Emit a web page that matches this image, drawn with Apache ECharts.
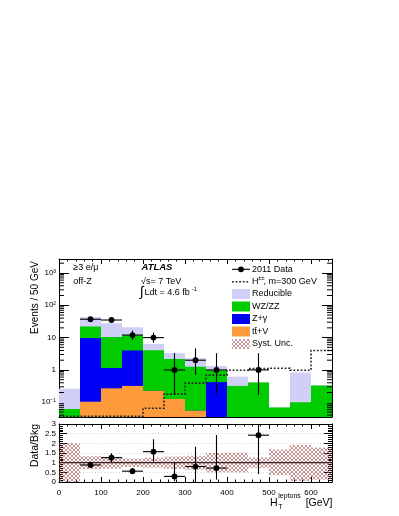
<!DOCTYPE html>
<html><head><meta charset="utf-8">
<script src="https://cdn.jsdelivr.net/npm/echarts@6/dist/echarts.min.js"></script>
<style>html,body{margin:0;padding:0;background:#fff}#c{width:399px;height:516px}</style>
</head><body><div id="c"></div>
<script>
// ---------------- data ----------------
const binEdges = [0,50,100,150,200,250,300,350,400,450,500,550,600,650];
const ttV       = [0, 0.104, 0.27, 0.32, 0.226, 0.126, 0.055, 0, 0, 0, 0, 0, 0];
const zGamma    = [0, 9.6, 0.88, 3.68, 0, 0, 0, 0.42, 0, 0, 0, 0, 0];
const wzzz      = [0.062, 12.3, 9.25, 7.9, 3.87, 2.07, 1.2, 0.56, 0.32, 0.41, 0.069, 0.1, 0.33];
const reducible = [0.2, 21.5, 17.5, 9.1, 2.2, 1.06, 1.04, 0.35, 0.3, 0, 0, 0.73, 0];
const signalHpp = [0, 0, 0, 0, 0.065, 0.178, 0.39, 0.69, 0.98, 1.1, 1.13, 0.98, 4.0];

const dataX  = [75, 125, 175, 225, 275, 325, 375, 475];
const dataY  = [37, 35, 12, 10, 1, 2, 1, 1];
const dataLo = [30.9, 29.1, 8.5, 6.9, 0.17, 0.71, 0.17, 0.17];
const dataHi = [44.1, 42.0, 16.6, 14.3, 3.3, 4.64, 3.3, 3.3];

const ratioY  = [0.88, 1.26, 0.56, 1.57, 0.29, 0.8, 0.72, 2.42];
const ratioLo = [0.72, 1.03, 0.40, 1.06, 0.04, 0.0, 0.12, 0.41];
const ratioHi = [1.05, 1.49, 0.72, 2.21, 1.03, 1.83, 2.43, 3.0];

const systLo = [0.0, 0.66, 0.70, 0.78, 0.74, 0.68, 0.64, 0.50, 0.50, 0.73, 0.35, 0.05, 0.12];
const systHi = [2.0, 1.34, 1.30, 1.22, 1.26, 1.32, 1.36, 1.50, 1.52, 1.27, 1.68, 1.92, 1.78];

const xTickLabels = ['0','100','200','300','400','500','600'];
const ratioTickLabels = ['0','0.5','1','1.5','2','2.5','3'];

// ---------------- helpers ----------------
const FONT = 'Liberation Sans, Arial, Helvetica, sans-serif';
const nBins = binEdges.length - 1;
const halfBin = (binEdges[1] - binEdges[0]) / 2;
const C_RED = '#cfcff7', C_GREEN = '#00cc00', C_BLUE = '#0000f5', C_ORANGE = '#fd9a3c';

function makeHatch(){
  const c = document.createElement('canvas'); c.width = 4; c.height = 4;
  const g = c.getContext('2d');
  g.fillStyle = 'rgba(165,85,85,0.62)';
  for (let i = 0; i < 4; i++) { g.fillRect(i, i, 1, 1); g.fillRect(3 - i, i, 1, 1); }
  return c;
}
const hatch = { image: makeHatch(), repeat: 'repeat' };

// cumulative stacks (bottom to top: ttV, Z+gamma, WZ/ZZ, Reducible)
const cum1 = ttV.slice();
const cum2 = cum1.map((v, i) => v + zGamma[i]);
const cum3 = cum2.map((v, i) => v + wzzz[i]);
const cum4 = cum3.map((v, i) => v + reducible[i]);
function histItems(arr){
  const out = [];
  for (let i = 0; i < nBins; i++) if (arr[i] > 0) out.push([binEdges[i], binEdges[i+1], arr[i]]);
  return out;
}
function clampY(cs, y){ return Math.max(cs.y, Math.min(cs.y + cs.height, y)); }

function histRender(color){
  return function(params, api){
    const cs = params.coordSys;
    const p0 = api.coord([api.value(0), api.value(2)]);
    const p1 = api.coord([api.value(1), api.value(2)]);
    const yTop = clampY(cs, p0[1]);
    const yBot = cs.y + cs.height;
    return { type: 'rect', shape: { x: p0[0], y: yTop, width: p1[0] - p0[0], height: yBot - yTop },
             style: { fill: color } };
  };
}

function errRender(isLog){
  return function(params, api){
    const cs = params.coordSys;
    const x = api.value(0), y = api.value(1), lo = api.value(2), hi = api.value(3);
    const bottom = cs.y + cs.height;
    const c = api.coord([x, y]);
    const pl = api.coord([x - halfBin, y]), pr = api.coord([x + halfBin, y]);
    const yl = (isLog && !(lo > 0)) ? bottom : clampY(cs, api.coord([x, lo])[1]);
    const yh = clampY(cs, api.coord([x, hi])[1]);
    return { type: 'group', children: [
      { type: 'line', shape: { x1: c[0], y1: yl, x2: c[0], y2: yh }, style: { stroke: '#000', lineWidth: 1.1 } },
      { type: 'line', shape: { x1: pl[0], y1: c[1], x2: pr[0], y2: c[1] }, style: { stroke: '#000', lineWidth: 1.1 } },
      { type: 'circle', shape: { cx: c[0], cy: c[1], r: 2.9 }, style: { fill: '#000' } }
    ]};
  };
}

function signalRender(params, api){
  const cs = params.coordSys;
  const bottom = cs.y + cs.height;
  const pts = [];
  for (let i = 0; i < nBins; i++) {
    const v = signalHpp[i];
    const xa = api.coord([binEdges[i], 1])[0], xb = api.coord([binEdges[i+1], 1])[0];
    const y = v > 0 ? clampY(cs, api.coord([binEdges[i], v])[1]) : bottom - 0.8;
    pts.push([xa, y], [xb, y]);
  }
  return { type: 'polyline', shape: { points: pts },
           style: { stroke: '#222', lineWidth: 1.6, lineDash: [1.8, 1.8], fill: null } };
}

const logMin = 0.035, logMax = 2700;
function logMinorTicks(params, api){
  const cs = params.coordSys;
  const ch = [];
  for (let n = -2; n <= 3; n++) for (let k = 2; k <= 9; k++) {
    const v = k * Math.pow(10, n);
    if (v <= logMin || v >= logMax) continue;
    const y = api.coord([0, v])[1];
    ch.push({ type: 'line', shape: { x1: cs.x, y1: y, x2: cs.x + 5, y2: y }, style: { stroke: '#000', lineWidth: 1 } });
    ch.push({ type: 'line', shape: { x1: cs.x + cs.width - 5, y1: y, x2: cs.x + cs.width, y2: y }, style: { stroke: '#000', lineWidth: 1 } });
  }
  return { type: 'group', children: ch };
}

function oneLineRender(params, api){
  const a = api.coord([binEdges[0], 1]), b = api.coord([binEdges[nBins], 1]);
  return { type: 'line', shape: { x1: a[0], y1: a[1], x2: b[0], y2: b[1] }, style: { stroke: '#3a2020', lineWidth: 1.1 } };
}

function bandRender(params, api){
  const p0 = api.coord([api.value(0), api.value(3)]);
  const p1 = api.coord([api.value(1), api.value(2)]);
  return { type: 'rect', shape: { x: p0[0], y: p0[1], width: p1[0] - p0[0], height: p1[1] - p0[1] },
           style: { fill: hatch } };
}

const SUP = { '-': '\u207b', '0': '\u2070', '1': '\u00b9', '2': '\u00b2', '3': '\u00b3', '4': '\u2074', '5': '\u2075' };
function logLabel(v){
  const l = Math.log10(v), r = Math.round(l);
  if (Math.abs(l - r) > 1e-6) return '';
  if (r === 0) return '1';
  if (r === 1) return '10';
  return '10' + String(r).split('').map(ch => SUP[ch]).join('');
}

// ---------------- axes ----------------
const lineBlack = { show: true, onZero: false, lineStyle: { color: '#000', width: 1 } };
function xAx(grid, pos, labels){
  return {
    type: 'value', gridIndex: grid, position: pos, min: 0, max: 650, interval: 100,
    axisLine: lineBlack,
    axisTick: { show: true, inside: true, length: 5, lineStyle: { color: '#000' } },
    minorTick: { show: true, splitNumber: 5, length: 2.5, lineStyle: { color: '#000' } },
    splitLine: { show: false }, minorSplitLine: { show: false },
    axisLabel: labels ? { show: true, color: '#000', fontSize: 8, fontFamily: FONT, margin: 7,
      formatter: v => xTickLabels.includes(String(v)) ? String(v) : '' } : { show: false }
  };
}
function yLog(pos, labels){
  return {
    type: 'log', gridIndex: 0, position: pos, min: logMin, max: logMax, splitNumber: 5,
    axisLine: lineBlack,
    axisTick: { show: true, inside: true, length: 10, lineStyle: { color: '#000' } },
    minorTick: { show: false }, splitLine: { show: false },
    axisLabel: labels ? { show: true, color: '#000', fontSize: 8, fontFamily: FONT, margin: 3, formatter: logLabel } : { show: false }
  };
}
function yRatio(pos, labels){
  return {
    type: 'value', gridIndex: 1, position: pos, min: 0, max: 3, interval: 0.5,
    axisLine: lineBlack,
    axisTick: { show: true, inside: true, length: 8, lineStyle: { color: '#000' } },
    minorTick: { show: true, splitNumber: 5, length: 4, lineStyle: { color: '#000' } },
    splitLine: { show: labels, lineStyle: { color: '#d4d4d4', type: [1, 2], width: 1 } },
    axisLabel: labels ? { show: true, color: '#000', fontSize: 8, fontFamily: FONT, margin: 3,
      formatter: v => { const s = String(v); return ratioTickLabels.includes(s) ? s : ''; } } : { show: false }
  };
}

// ---------------- legend & texts (graphic) ----------------
const legX = 232, legW = 18, legTx = 252;
const T = (x, y, text, extra) => Object.assign({ type: 'text', x: x, y: y, z: 100,
  style: Object.assign({ text: text, fill: '#000', fontFamily: FONT, fontSize: 9, verticalAlign: 'middle', align: 'left' }, extra || {}) });
const box = (y, fill) => ({ type: 'rect', z: 100, shape: { x: legX, y: y - 5, width: legW, height: 10 }, style: { fill: fill } });
const graphics = [
  // legend
  { type: 'line', z: 100, shape: { x1: legX, y1: 269.3, x2: legX + legW, y2: 269.3 }, style: { stroke: '#000', lineWidth: 1.1 } },
  { type: 'circle', z: 100, shape: { cx: legX + legW / 2, cy: 269.3, r: 2.9 }, style: { fill: '#000' } },
  T(legTx, 269.3, '2011 Data'),
  { type: 'line', z: 100, shape: { x1: legX, y1: 281.7, x2: legX + legW, y2: 281.7 }, style: { stroke: '#222', lineWidth: 1.6, lineDash: [1.8, 1.8] } },
  T(legTx, 281.7, 'H'),
  T(258, 278.8, '\u00b1\u00b1', { fontSize: 6 }),
  T(263.6, 281.7, ', m=300 GeV'),
  box(294, C_RED), T(legTx, 294, 'Reducible'),
  box(306.5, C_GREEN), T(legTx, 306.5, 'WZ/ZZ'),
  box(319, C_BLUE), T(legTx, 319, 'Z+\u03b3'),
  box(331.5, C_ORANGE), T(legTx, 331.5, 'tt\u0304+V'),
  box(344, hatch), T(legTx, 344, 'Syst. Unc.'),
  // labels in plot
  T(73.3, 268, '\u22653 e/\u03bc'),
  T(73.3, 282, 'off-Z'),
  T(141.5, 267.3, 'ATLAS', { fontWeight: 'bold', fontStyle: 'italic', fontSize: 9.5 }),
  T(141, 282, '\u221as= 7 TeV'),
  T(140, 292.5, '\u222b', { fontSize: 14 }),
  T(144.5, 293, 'Ldt = 4.6 fb'),
  T(191.8, 289.5, '-1', { fontSize: 6 }),
  // axis titles
  { type: 'text', x: 35, y: 297.5, rotation: Math.PI / 2, z: 100,
    style: { text: 'Events / 50 GeV', fill: '#000', fontFamily: FONT, fontSize: 10, align: 'center', verticalAlign: 'middle' } },
  { type: 'text', x: 35, y: 445.5, rotation: Math.PI / 2, z: 100,
    style: { text: 'Data/Bkg', fill: '#000', fontFamily: FONT, fontSize: 10.5, align: 'center', verticalAlign: 'middle' } },
  T(270, 503, 'H', { fontSize: 10.5 }),
  T(278.3, 495.8, 'leptons', { fontSize: 7 }),
  T(278.3, 507, 'T', { fontSize: 7 }),
  T(332.5, 503, '[GeV]', { fontSize: 10.5, align: 'right' })
];

// ---------------- chart ----------------
const chart = echarts.init(document.getElementById('c'), null, { renderer: 'canvas' });
const xy0 = { xAxisIndex: 0, yAxisIndex: 0 }, xy1 = { xAxisIndex: 2, yAxisIndex: 2 };
chart.setOption({
  animation: false,
  backgroundColor: '#fff',
  textStyle: { fontFamily: FONT },
  grid: [
    { left: 59, top: 259, width: 273, height: 158, containLabel: false, outerBoundsMode: 'none' },
    { left: 59, top: 424, width: 273, height: 58, containLabel: false, outerBoundsMode: 'none' }
  ],
  xAxis: [ xAx(0, 'bottom', false), xAx(0, 'top', false), xAx(1, 'bottom', true), xAx(1, 'top', false) ],
  yAxis: [ yLog('left', true), yLog('right', false), yRatio('left', true), yRatio('right', false) ],
  graphic: graphics,
  series: [
    Object.assign({ type: 'custom', name: 'Reducible', renderItem: histRender(C_RED), data: histItems(cum4), encode: { x: [0, 1], y: 2 }, z: 2 }, xy0),
    Object.assign({ type: 'custom', name: 'WZ/ZZ', renderItem: histRender(C_GREEN), data: histItems(cum3), encode: { x: [0, 1], y: 2 }, z: 3 }, xy0),
    Object.assign({ type: 'custom', name: 'Z+gamma', renderItem: histRender(C_BLUE), data: histItems(cum2), encode: { x: [0, 1], y: 2 }, z: 4 }, xy0),
    Object.assign({ type: 'custom', name: 'ttV', renderItem: histRender(C_ORANGE), data: histItems(cum1), encode: { x: [0, 1], y: 2 }, z: 5 }, xy0),
    Object.assign({ type: 'custom', name: 'minor', renderItem: logMinorTicks, data: [[0, 1]], encode: { x: 0, y: 1 }, z: 20, silent: true }, xy0),
    Object.assign({ type: 'custom', name: 'Hpp', renderItem: signalRender, data: [[0, 1]], encode: { x: 0, y: 1 }, z: 8 }, xy0),
    Object.assign({ type: 'custom', name: 'Data', renderItem: errRender(true),
      data: dataX.map((x, i) => [x, dataY[i], dataLo[i], dataHi[i]]), encode: { x: 0, y: 1 }, z: 10 }, xy0),
    Object.assign({ type: 'custom', name: 'Syst', renderItem: bandRender,
      data: binEdges.slice(0, nBins).map((x, i) => [x, binEdges[i + 1], systLo[i], systHi[i]]), encode: { x: [0, 1], y: [2, 3] }, z: 2 }, xy1),
    Object.assign({ type: 'custom', name: 'one', renderItem: oneLineRender, data: [[0, 1]], encode: { x: 0, y: 1 }, z: 4 }, xy1),
    Object.assign({ type: 'custom', name: 'Ratio', renderItem: errRender(false),
      data: dataX.map((x, i) => [x, ratioY[i], ratioLo[i], ratioHi[i]]), encode: { x: 0, y: 1 }, z: 10 }, xy1)
  ]
});
</script>
</body></html>
